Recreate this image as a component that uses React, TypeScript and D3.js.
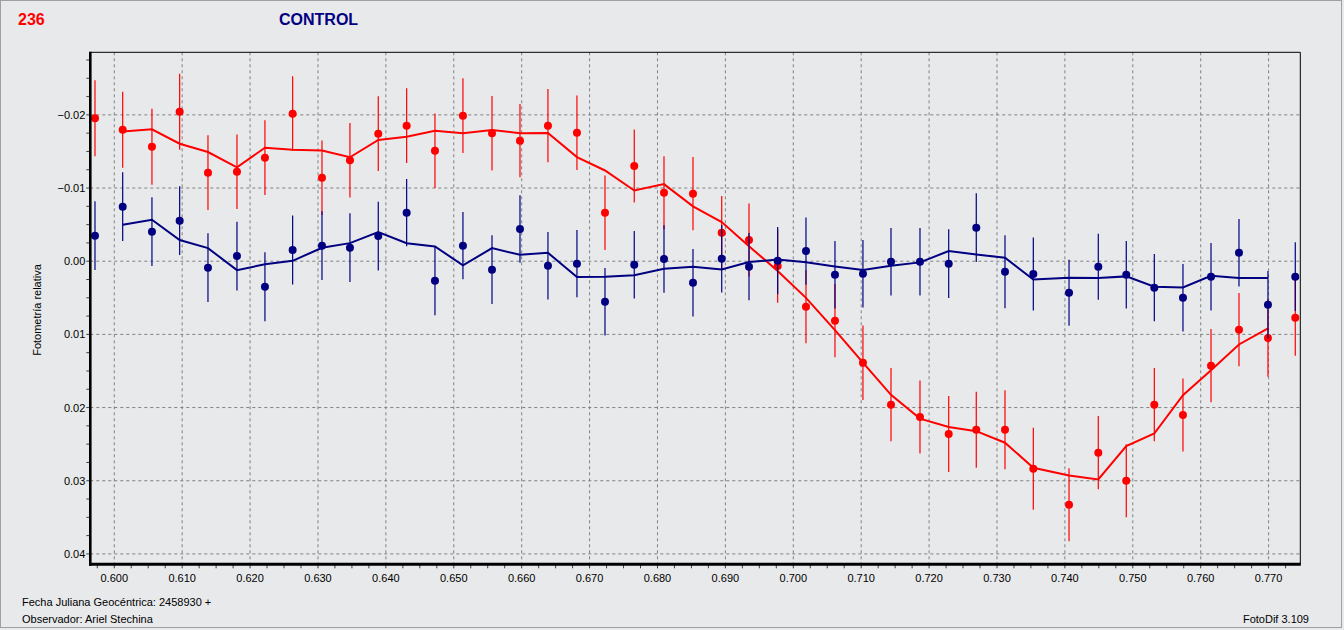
import React from 'react';
import * as d3 from 'd3';

// fecha juliana (fraccion) de cada medicion
const jd = [
  0.59716, 0.60124, 0.60555, 0.60963, 0.6138, 0.61807, 0.62219, 0.62627, 0.63059, 0.63471,
  0.63888, 0.64306, 0.64723, 0.65135, 0.65563, 0.65975, 0.66387, 0.66814, 0.67227, 0.67658,
  0.68096, 0.68523, 0.68946, 0.69348, 0.6977, 0.70187, 0.70614, 0.71026, 0.71439, 0.71866,
  0.72289, 0.72695, 0.73118, 0.73535, 0.74061, 0.74492, 0.74904, 0.75317, 0.75739, 0.76152,
  0.76564, 0.76991, 0.77393
];

// variable (rojo)
const varMag = [
  -0.01953, -0.01797, -0.01565, -0.02043, -0.0121, -0.01223, -0.01415, -0.02016, -0.01141, -0.01379,
  -0.01743, -0.01852, -0.0151, -0.01989, -0.01748, -0.01647, -0.01852, -0.01756, -0.00663, -0.01301,
  -0.00936, -0.00923, -0.0039, -0.0029, 0.00066, 0.00622, 0.00813, 0.01387, 0.01961, 0.02129,
  0.02362, 0.02303, 0.02303, 0.02836, 0.03328, 0.02617, 0.03, 0.01961, 0.02102, 0.01428,
  0.00936, 0.0105, 0.00772
];
const varErr = [
  0.0052, 0.0052, 0.0052, 0.0052, 0.0051, 0.0051, 0.0051, 0.0051, 0.0051, 0.0051,
  0.0051, 0.0051, 0.0051, 0.0051, 0.0051, 0.005, 0.005, 0.0051, 0.0051, 0.005,
  0.005, 0.005, 0.005, 0.005, 0.005, 0.005, 0.005, 0.0051, 0.005, 0.005,
  0.0052, 0.0052, 0.0054, 0.0056, 0.005, 0.005, 0.005, 0.005, 0.005, 0.005,
  0.005, 0.0053, 0.0052
];

// control (azul)
const ctrlMag = [
  -0.00349, -0.00745, -0.00403, -0.00554, 0.00089, -0.00071, 0.00349, -0.00153, -0.00212, -0.00185,
  -0.00344, -0.00663, 0.00267, -0.00212, 0.00116, -0.0044, 0.00062, 0.00034, 0.00554, 0.00048,
  -0.0003, 0.00294, -0.00034, 0.00075, -0.00007, -0.00139, 0.00185, 0.00171, 0.00007, 0.00007,
  0.00034, -0.00458, 0.00144, 0.00175, 0.00431, 0.00075, 0.00185, 0.00362, 0.00499, 0.00212,
  -0.00116, 0.00595, 0.00212
];
const ctrlErr = [
  0.0047, 0.0047, 0.0047, 0.0047, 0.0047, 0.0047, 0.0047, 0.0047, 0.0047, 0.0047,
  0.0047, 0.0046, 0.0047, 0.0046, 0.0047, 0.0046, 0.0046, 0.0046, 0.0046, 0.0046,
  0.0046, 0.0046, 0.0046, 0.0046, 0.0046, 0.0046, 0.0046, 0.0046, 0.0046, 0.0046,
  0.0047, 0.0047, 0.005, 0.005, 0.0045, 0.0045, 0.0046, 0.0046, 0.0046, 0.0046,
  0.0046, 0.0046, 0.0047
];

const xTicks = d3.range(0, 18).map((i) => 0.6 + i * 0.01);
const yTicks = [-0.02, -0.01, 0, 0.01, 0.02, 0.03, 0.04];

const W = 1344;
const H = 630;
const BG = '#e8e9eb';
const RED = '#ff0000';
const BLUE = '#000080';

// promedio movil de 3 puntos (lo que dibuja FotoDif)
function runningMean(vals: number[]) {
  const out: [number, number][] = [];
  for (let i = 1; i < vals.length - 1; i++) {
    out.push([jd[i], d3.mean(vals.slice(i - 1, i + 2)) as number]);
  }
  return out;
}

const Series = ({ mag, err, color, x, y }: any) => {
  const line = d3
    .line<[number, number]>()
    .x((d) => x(d[0]))
    .y((d) => y(d[1]));
  return (
    <g>
      {jd.map((d, i) => (
        <line
          key={`e-${i}`}
          x1={x(d)}
          x2={x(d)}
          y1={y(mag[i] - err[i])}
          y2={y(mag[i] + err[i])}
          stroke={color}
          strokeWidth={1.2}
        />
      ))}
      <path d={line(runningMean(mag)) as string} fill="none" stroke={color} strokeWidth={2} />
      {jd.map((d, i) => (
        <circle key={`p-${i}`} cx={x(d)} cy={y(mag[i])} r={4} fill={color} />
      ))}
    </g>
  );
};

export default function App() {
  const left = 90.3;
  const right = 1300.3;
  const top = 52.3;
  const bottom = 564.3;

  const x = d3.scaleLinear().domain([0.59647, 0.77467]).range([left, right]);
  const y = d3.scaleLinear().domain([-0.02855, 0.04142]).range([top, bottom]);

  const xMinor = d3.range(0, 71).map((i) => 0.5975 + i * 0.0025);
  const yMinor = d3.range(0, 28).map((i) => -0.0275 + i * 0.0025);

  const font = 'Arial, "Liberation Sans", sans-serif';

  return (
    <div style={{ position: 'absolute', left: 0, top: 0 }}>
      <svg width={W} height={H} style={{ display: 'block' }} fontFamily={font}>
        <rect x={0} y={0} width={W} height={H} fill={BG} />
        <rect x={0.5} y={0.5} width={1341} height={627} fill="none" stroke="#a0a0a0" />

        <text x={18} y={25} fill={RED} fontWeight="bold" fontSize={16}>
          236
        </text>
        <text x={279} y={25} fill={BLUE} fontWeight="bold" fontSize={16}>
          CONTROL
        </text>

        {/* grilla */}
        <g stroke="#808080" strokeDasharray="3,3" strokeWidth={1}>
          {xTicks.map((t) => (
            <line key={`gx-${t}`} x1={x(t)} x2={x(t)} y1={top} y2={bottom} />
          ))}
          {yTicks.map((t) => (
            <line key={`gy-${t}`} x1={left} x2={right} y1={y(t)} y2={y(t)} />
          ))}
        </g>

        {/* marcas menores */}
        <g stroke="#404040" strokeWidth={1}>
          {xMinor.map((t) => (
            <line key={`mx-${t}`} x1={x(t)} x2={x(t)} y1={bottom} y2={bottom + 4} />
          ))}
          {yMinor.map((t) => (
            <line key={`my-${t}`} x1={left - 4} x2={left} y1={y(t)} y2={y(t)} />
          ))}
        </g>

        <Series mag={varMag} err={varErr} color={RED} x={x} y={y} />
        <Series mag={ctrlMag} err={ctrlErr} color={BLUE} x={x} y={y} />

        {/* marco */}
        <line x1={left} x2={right} y1={top} y2={top} stroke="#000" strokeWidth={1} />
        <line x1={right} x2={right} y1={top} y2={bottom} stroke="#000" strokeWidth={1} />
        <line x1={left} x2={left} y1={top - 0.5} y2={bottom + 1.5} stroke="#000" strokeWidth={2.6} />
        <line x1={left - 1.3} x2={right + 0.5} y1={bottom} y2={bottom} stroke="#000" strokeWidth={3} />

        <g fontSize={11} fill="#000">
          {xTicks.map((t) => (
            <text key={`lx-${t}`} x={x(t)} y={582} textAnchor="middle">
              {d3.format('.3f')(t)}
            </text>
          ))}
          {yTicks.map((t) => (
            <text key={`ly-${t}`} x={left - 5} y={y(t) + 4} textAnchor="end">
              {d3.format('.2f')(t)}
            </text>
          ))}
        </g>

        <text transform="translate(41,310) rotate(-90)" textAnchor="middle" fontSize={11} fill="#000">
          Fotometría relativa
        </text>

        <g fontSize={11} fill="#000">
          <text x={22} y={606}>Fecha Juliana Geocéntrica: 2458930 +</text>
          <text x={22} y={623}>Observador: Ariel Stechina</text>
          <text x={1309} y={623} textAnchor="end">
            FotoDif 3.109
          </text>
        </g>
      </svg>
    </div>
  );
}
